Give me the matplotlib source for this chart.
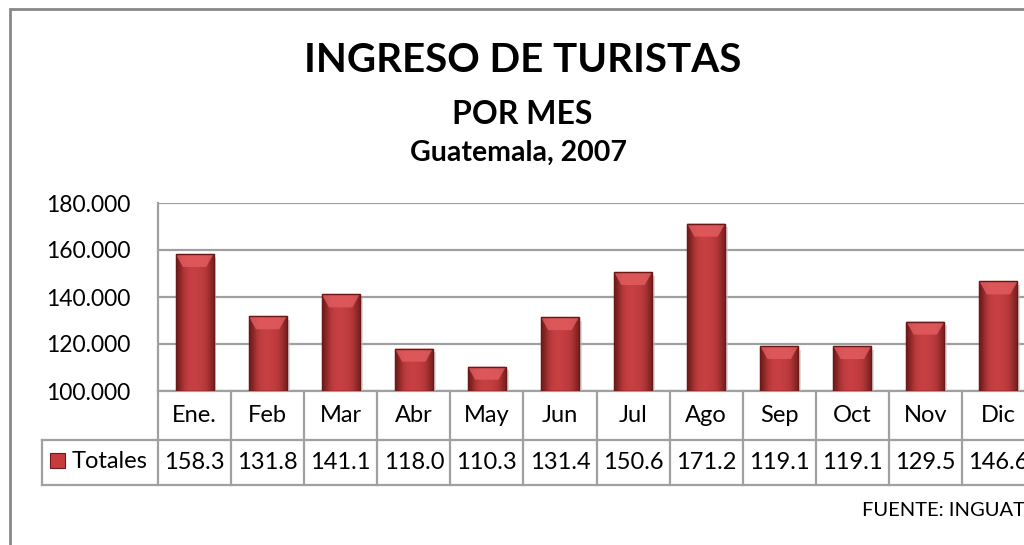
import matplotlib.pyplot as plt
import matplotlib.transforms as mtransforms
from matplotlib.patches import Rectangle, Polygon
from matplotlib.ticker import FuncFormatter
import numpy as np

months = ['Ene.', 'Feb', 'Mar', 'Abr', 'May', 'Jun', 'Jul', 'Ago', 'Sep', 'Oct', 'Nov', 'Dic']
totales = [158.3, 131.8, 141.1, 118.0, 110.3, 131.4, 150.6, 171.2, 119.1, 119.1, 129.5, 146.6]  # miles
series_name = 'Totales'
y_ticks = [100000, 120000, 140000, 160000, 180000]

plt.rcParams['font.family'] = ['Lato', 'DejaVu Sans']

W, H = 1024, 545
fig = plt.figure(figsize=(W / 100, H / 100), dpi=100)

def px(x, y):
    return x / W, 1 - y / H

# plot area (right side runs past the image, as in the original)
left, top, right, bottom = 158, 203, 1035, 391
ax = fig.add_axes([left / W, 1 - bottom / H, (right - left) / W, (bottom - top) / H])

values = np.array(totales) * 1000
x = np.arange(len(months))
bars = ax.bar(x, values - 100000, bottom=100000, width=0.52, color='#c83a3c',
              edgecolor='#6e1818', linewidth=0.8, zorder=3)

# bevelled / gradient look for each bar
grad = np.array([[0.05, 0.6, 0.8, 0.85, 0.82, 0.75, 0.6, 0.15]])
cmap = plt.matplotlib.colors.LinearSegmentedColormap.from_list('r', ['#6e1a1a', '#d8474a'])
for b in bars:
    x0, y0, w, h = b.get_x(), b.get_y(), b.get_width(), b.get_height()
    im = ax.imshow(grad, cmap=cmap, vmin=0, vmax=1, aspect='auto', interpolation='bicubic',
                   extent=(x0, x0 + w, y0, y0 + h), zorder=3.1)
    im.set_clip_path(b)
    bev = 5500
    dx = 0.1
    ax.add_patch(Polygon([(x0, y0 + h), (x0 + w, y0 + h), (x0 + w - dx, y0 + h - bev),
                          (x0 + dx, y0 + h - bev)], closed=True, facecolor='#e45e60',
                         edgecolor='none', alpha=0.8, zorder=3.2))
    ax.add_patch(Rectangle((x0, y0), w, h, facecolor='none', edgecolor='#6a1717',
                           linewidth=1.0, zorder=3.3))
    # soft shadow to the right
    ax.add_patch(Rectangle((x0 + w, y0), 0.04, h - 1500, facecolor='#c4c4c4',
                           edgecolor='none', alpha=0.6, zorder=2.9))

ax.set_xlim(-0.5, len(months) - 0.5)
ax.set_ylim(y_ticks[0], y_ticks[-1])
ax.set_yticks(y_ticks)
ax.yaxis.set_major_formatter(FuncFormatter(lambda v, p: f'{v:,.0f}'.replace(',', '.')))
ax.set_xticks([])
ax.tick_params(axis='y', length=0, pad=20, labelsize=16.5)
ax.grid(axis='y', color='#a0a0a0', linewidth=1.6, zorder=1)
for s in ['top', 'right', 'bottom']:
    ax.spines[s].set_visible(False)
ax.spines['left'].set_color('#a0a0a0')
ax.spines['left'].set_linewidth(1.6)

# data table under the plot
trans = mtransforms.blended_transform_factory(ax.transData, ax.transAxes)
r1 = -(440 - bottom) / (bottom - top)
r2 = -(485 - bottom) / (bottom - top)
cw = (right - left) / len(months)
xleg = -0.5 - (left - 42) / cw
lc = dict(color='#a0a0a0', linewidth=1.6, transform=trans, clip_on=False, zorder=2)
ax.plot([-0.5, len(months) - 0.5], [0, 0], **lc)
ax.plot([-0.5, len(months) - 0.5], [r1, r1], **lc)
ax.plot([xleg, -0.5], [r1, r1], **lc)
ax.plot([xleg, len(months) - 0.5], [r2, r2], **lc)
ax.plot([xleg, xleg], [r1, r2], **lc)
for i in range(len(months) + 1):
    ax.plot([i - 0.5, i - 0.5], [0, r2], **lc)
for i, (m, v) in enumerate(zip(months, totales)):
    ax.text(i, r1 / 2, m, transform=trans, ha='center', va='center', fontsize=17, clip_on=False)
    ax.text(i, (r1 + r2) / 2, f'{v:.1f}', transform=trans, ha='center', va='center',
            fontsize=17, clip_on=False)

# legend key in table
fig.patches.append(Rectangle(px(50, 468), 15 / W, 15 / H, transform=fig.transFigure,
                             facecolor='#c83a3c', edgecolor='#6e1818', linewidth=0.8))
fig.text(*px(72, 462), series_name, ha='left', va='center', fontsize=17)

# titles
fig.text(*px(523, 61), 'INGRESO DE TURISTAS', ha='center', va='center', fontsize=29, fontweight='bold')
fig.text(*px(522, 114), 'POR MES', ha='center', va='center', fontsize=23, fontweight='bold')
fig.text(*px(519, 153), 'Guatemala, 2007', ha='center', va='center', fontsize=20.5, fontweight='bold')
fig.text(*px(1025, 511), 'FUENTE: INGUAT', ha='right', va='center', fontsize=14.5)

# chart border
fig.patches.append(Rectangle(px(10, 600), 1100 / W, 591 / H, transform=fig.transFigure,
                             facecolor='none', edgecolor='#888888', linewidth=2))

fig.savefig('out.png', dpi=100)
